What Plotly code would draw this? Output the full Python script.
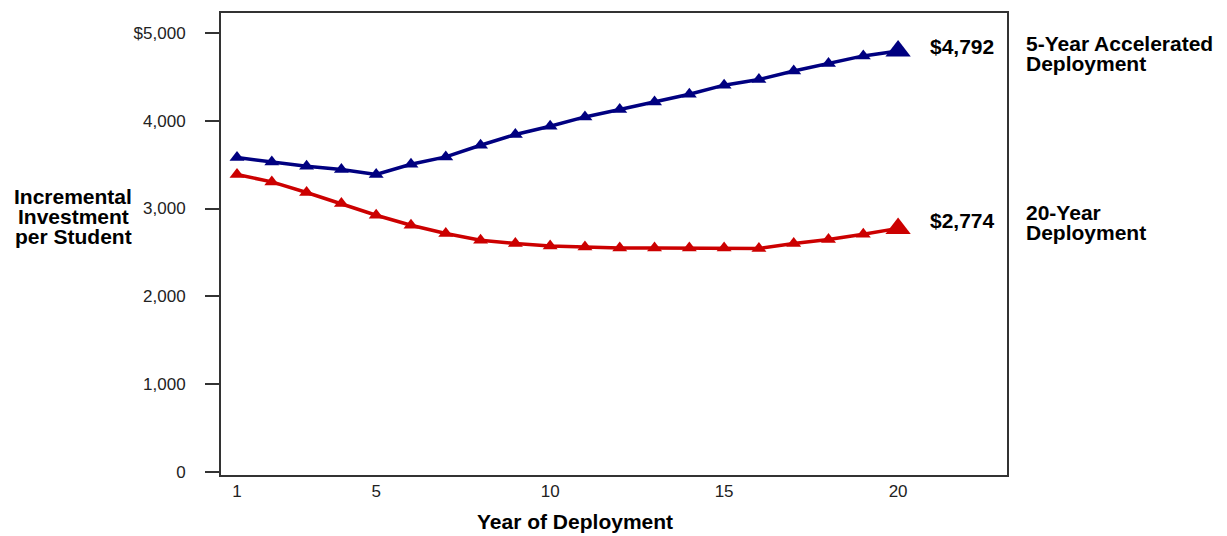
import plotly.graph_objects as go

# ---- data ----
years = list(range(1, 21))
accelerated = [3580, 3530, 3481, 3444, 3387, 3504, 3587, 3720, 3842, 3936,
               4042, 4126, 4213, 4300, 4403, 4467, 4565, 4649, 4736, 4792]
twenty_year = [3387, 3303, 3182, 3057, 2924, 2810, 2716, 2640, 2602, 2575,
               2563, 2552, 2552, 2552, 2552, 2545, 2602, 2647, 2708, 2774]
series_names = ["5-Year Accelerated", "20-Year"]
series_colors = ["#000080", "#cc0000"]
y_tickvals = [0, 1000, 2000, 3000, 4000, 5000]
y_ticktext = ["0", "1,000", "2,000", "3,000", "4,000", "$5,000"]
x_tickvals = [1, 5, 10, 15, 20]

W, H = 1227, 536
ML, MR, MT, MB = 221, 220, 13, 61
PW, PH = W - ML - MR, H - MT - MB

def px(xp):
    return (xp - ML) / PW

def py(yp):
    return (H - MB - yp) / PH

fig = go.Figure()
for name, vals, col in zip(series_names, [accelerated, twenty_year], series_colors):
    sizes = [13] * (len(vals) - 1) + [22]
    fig.add_trace(go.Scatter(
        x=years, y=vals, mode="lines+markers", name=name,
        line=dict(color=col, width=3.5),
        marker=dict(symbol="triangle-up", size=sizes, color=col, opacity=1,
                    line=dict(width=0)),
        showlegend=False, hoverinfo="x+y",
    ))

bold = dict(family="Liberation Sans, Arial, sans-serif", size=21, color="#000000")
annotations = []

def label(text, xp, yp, xanchor="left", font=bold):
    annotations.append(dict(text="<b>%s</b>" % text, xref="paper", yref="paper",
                            x=px(xp), y=py(yp), xanchor=xanchor, yanchor="middle",
                            showarrow=False, font=font))

# end value labels
label("$%s" % format(accelerated[-1], ","), 928, 46.7)
label("$%s" % format(twenty_year[-1], ","), 928, 220.8)
# series labels
label("5-Year Accelerated", 1024, 43.3)
label("Deployment", 1024, 64)
label("20-Year", 1024, 212.5)
label("Deployment", 1024, 232)
# y title
label("Incremental", 73, 196.7, "center")
label("Investment", 73, 216.7, "center")
label("per Student", 73, 236.5, "center")
# x title
label("Year of Deployment", 574.5, 521.7, "center")

tickfont = dict(family="Liberation Sans, Arial, sans-serif", size=17, color="#222222")

fig.update_layout(
    width=W, height=H,
    margin=dict(l=ML, r=MR, t=MT, b=MB, pad=0),
    paper_bgcolor="white", plot_bgcolor="white",
    annotations=annotations,
    xaxis=dict(range=[0.54, 23.13], tickvals=x_tickvals, ticks="",
               showgrid=False, zeroline=False, showline=True, mirror=True,
               linecolor="#333333", linewidth=2, tickfont=tickfont,
               ticklabelstandoff=0),
    yaxis=dict(range=[-31, 5224], tickvals=y_tickvals, ticktext=y_ticktext,
               ticks="outside", ticklen=14, tickwidth=2, tickcolor="#333333",
               showgrid=False, zeroline=False, showline=True, mirror=True,
               linecolor="#333333", linewidth=2, tickfont=tickfont,
               ticklabelstandoff=16),
)

fig.write_html("out.html", config={"displayModeBar": False},
               post_script="document.body.style.margin='0px';document.body.style.padding='0px';")
